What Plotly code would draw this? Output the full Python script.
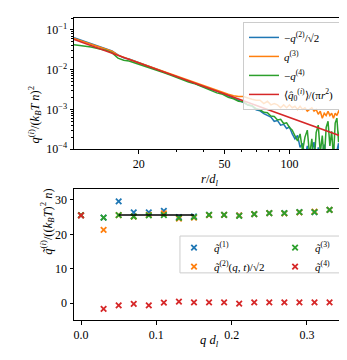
import plotly.graph_objects as go
from plotly.subplots import make_subplots

# top panel: radial profiles
r_vals = [10, 12, 14, 15, 16, 17, 18, 20, 22, 24, 26, 28, 30, 32, 34, 36, 38, 40,
          43, 46, 49, 52, 55, 58, 61, 64, 67, 70, 73, 76, 79, 82, 85, 88, 91, 94, 97,
          100, 103, 106, 109, 112, 115, 118, 121, 124, 127, 130, 133, 136, 139, 142,
          145, 148, 151, 154, 157, 160, 163, 166, 169, 172, 175, 178, 181]
q2_vals = [0.064, 0.046, 0.034, 0.0295, 0.0235, 0.0198, 0.0185, 0.0152, 0.0127, 0.0104,
           0.0089, 0.0076, 0.0066, 0.0059, 0.0051, 0.0047, 0.0041, 0.0038,
           0.0032, 0.0029, 0.0025, 0.0022, 0.00196, 0.0017, 0.0015, 0.00128, 0.00122,
           0.00098, 0.00092, 0.00078, 0.00072, 0.00064, 0.0005, 0.00052, 0.0004, 0.00042,
           0.00033, 0.00036, 0.00024, 0.00018, 0.00022, 0.00011, 0.00014, 0.00006,
           0.00012, 0.00005, 0.00009, 0.00015, 0.00004, 0.00011, 0.00003, 0.00008,
           0.00013, 0.00005, 0.00002, 0.0001, 0.00006, 0.00012, 0.00003, 0.00009,
           0.00014, 0.00005, 0.00011, 0.00008, 0.00012]
q3_vals = [0.061, 0.044, 0.033, 0.029, 0.0232, 0.0202, 0.0184, 0.015, 0.0125, 0.0104,
           0.0089, 0.0077, 0.0067, 0.006, 0.0053, 0.0047, 0.0044, 0.0039,
           0.0034, 0.003, 0.0027, 0.0024, 0.0022, 0.0021, 0.0021, 0.0019, 0.0018,
           0.0017, 0.0017, 0.0014, 0.0016, 0.0013, 0.0014, 0.0013, 0.0011, 0.0013,
           0.0011, 0.0013, 0.0011, 0.0012, 0.001, 0.0012, 0.001, 0.0011, 0.0009,
           0.001, 0.0011, 0.0009, 0.001, 0.00075, 0.0009, 0.0006, 0.0008, 0.0007,
           0.0009, 0.0007, 0.0008, 0.0006, 0.0008, 0.0007, 0.0009, 0.0008, 0.001,
           0.0009, 0.0011]
q4_vals = [0.0426, 0.037, 0.031, 0.0268, 0.0195, 0.0172, 0.0165, 0.0138, 0.0118, 0.0098,
           0.0085, 0.0073, 0.0063, 0.0057, 0.0049, 0.0045, 0.004, 0.0035,
           0.0031, 0.0026, 0.0024, 0.002, 0.00185, 0.0016, 0.00156, 0.0013, 0.00124,
           0.00104, 0.00098, 0.00084, 0.00082, 0.00068, 0.00066, 0.00054, 0.00056,
           0.00044, 0.00046, 0.00035, 0.0003, 0.00021, 0.00016, 0.00024, 0.00009,
           0.0002, 0.0003, 0.00007, 0.00018, 0.00004, 0.00026, 0.0004, 0.00008,
           0.00022, 0.00005, 0.00035, 0.0005, 0.00012, 0.00028, 0.00006, 0.00045,
           0.0006, 0.00015, 0.0004, 0.00075, 0.0006, 0.0009]
fit_r = [10, 181]
fit_vals = [0.0575, 0.000195]

# bottom panel: q-space
q_vals = [0.0, 0.03, 0.05, 0.07, 0.09, 0.11, 0.13, 0.15, 0.17, 0.19, 0.21, 0.23,
          0.25, 0.27, 0.29, 0.31, 0.33, 0.35]
qt1 = [25.5, 24.9, 29.6, 26.4, 26.4, 26.8, 25.0, 25.2, 25.7, 25.7, 25.5, 25.9,
       26.2, 26.2, 26.5, 26.5, 27.1, 27.4]
qt2 = [25.5, 21.3, 25.6, 25.2, 25.7, 26.1, 24.6, 24.9, 25.6, 25.7, 25.5, 25.9,
       26.2, 26.1, 26.4, 26.6, 27.1, 27.4]
qt3 = [25.6, 24.9, 25.6, 25.2, 25.5, 25.6, 24.8, 25.0, 25.7, 25.7, 25.4, 25.9,
       26.2, 26.2, 26.5, 26.5, 27.1, 27.4]
qt4 = [25.5, -1.6, -0.6, -0.2, -0.6, 0.2, 0.5, 0.3, 0.3, 0.3, -0.1, 0.3,
       0.3, 0.3, 0.3, 0.3, 0.3, 0.3]
plateau_q = [0.05, 0.15]
plateau_val = [25.6, 25.6]

C = ['#1f77b4', '#ff7f0e', '#2ca02c', '#d62728']
FONT = 'Liberation Serif'

fig = make_subplots(rows=2, cols=1)

top_names = ['\u2212<i>q</i><sup>(2)</sup>/\u221a2', '<i>q</i><sup>(3)</sup>',
             '\u2212<i>q</i><sup>(4)</sup>',
             '\u27e8<i>q\u0302</i><sub>0</sub><sup>(<i>i</i>)</sup>\u27e9/(\u03c0<i>r</i><sup>2</sup>)']
for i, (x, y) in enumerate([(r_vals, q2_vals), (r_vals, q3_vals), (r_vals, q4_vals), (fit_r, fit_vals)]):
    fig.add_trace(go.Scatter(x=x, y=y, mode='lines', name=top_names[i],
                             line=dict(color=C[i], width=1.5), legend='legend'),
                  row=1, col=1)

bot_names = ['<i>q\u0303</i><sup>(1)</sup>',
             '<i>q\u0303</i><sup>(2)</sup>(<i>q</i>, <i>t</i>)/\u221a2',
             '<i>q\u0303</i><sup>(3)</sup>', '<i>q\u0303</i><sup>(4)</sup>']
bot_legend = ['legend2', 'legend2', 'legend3', 'legend3']
for i, y in enumerate([qt1, qt2, qt3, qt4]):
    fig.add_trace(go.Scatter(x=q_vals, y=y, mode='markers', name=bot_names[i],
                             marker=dict(symbol='x-thin', size=5.5, color=C[i],
                                         line=dict(color=C[i], width=1.8)),
                             legend=bot_legend[i]),
                  row=2, col=1)
fig.add_trace(go.Scatter(x=plateau_q, y=plateau_val, mode='lines', showlegend=False,
                         line=dict(color='black', width=1.5)), row=2, col=1)

ax_style = dict(showline=True, mirror=True, linecolor='black', linewidth=1,
                ticks='outside', ticklen=3.5, tickwidth=1, tickcolor='black',
                showgrid=False, zeroline=False, tickfont=dict(family=FONT, size=12, color='black'))

fig.update_xaxes(type='log', range=[1, 2.2577], tickvals=[20, 50, 100],
                 minor=dict(tickvals=[30, 40, 60, 70, 80, 90], ticks='outside', ticklen=2,
                            tickcolor='black', tickwidth=0.8),
                 row=1, col=1, **ax_style)
ymin = [m * 10 ** e for e in range(-4, 0) for m in range(2, 10)]
fig.update_yaxes(type='log', range=[-4, -0.699], tickvals=[1e-4, 1e-3, 1e-2, 1e-1],
                 ticktext=['10<sup>\u22124</sup>', '10<sup>\u22123</sup>',
                           '10<sup>\u22122</sup>', '10<sup>\u22121</sup>'],
                 minor=dict(tickvals=ymin, ticks='outside', ticklen=2,
                            tickcolor='black', tickwidth=0.8),
                 domain=[0.566, 1], row=1, col=1, **ax_style)
fig.update_xaxes(range=[-0.0093, 0.3505], tickvals=[0, 0.1, 0.2, 0.3], tickformat='.1f',
                 row=2, col=1, **ax_style)
fig.update_yaxes(range=[-4.85, 33.2], tickvals=[0, 10, 20, 30], domain=[0, 0.434],
                 row=2, col=1, **ax_style)

lab = dict(xref='paper', yref='paper', showarrow=False,
           font=dict(family=FONT, size=12.5, color='black'))
fig.add_annotation(text='<i>q</i><sup>(<i>i</i>)</sup>/(<i>k</i><sub><i>B</i></sub><i>T n</i>)<sup>2</sup>',
                   x=-0.188, y=0.783, textangle=-90, **lab)
fig.add_annotation(text='<i>r</i>/<i>d</i><sub><i>l</i></sub>', x=0.5, y=0.4636, **lab)
fig.add_annotation(text='<i>q\u0303</i><sup>(<i>i</i>)</sup>/((<i>k</i><sub><i>B</i></sub><i>T</i>)<sup>2</sup> <i>n</i>)',
                   x=-0.14, y=0.21, textangle=-90, **lab)
fig.add_annotation(text='<i>q d</i><sub><i>l</i></sub>', x=0.5, y=-0.103, **lab)

# frame of the two-column legend in the lower panel
fig.add_shape(type='rect', xref='paper', yref='paper', x0=0.391, x1=0.9815, y0=0.156, y1=0.278,
              fillcolor='rgba(255,255,255,0.8)', line=dict(color='#cccccc', width=1), layer='above')

leg_font = dict(family=FONT, size=11, color='black')
fig.update_layout(
    width=347, height=360,
    margin=dict(l=66, r=10, t=10, b=48),
    plot_bgcolor='white', paper_bgcolor='white',
    legend=dict(x=0.9815, y=0.987, xanchor='right', yanchor='top', font=leg_font,
                bgcolor='rgba(255,255,255,0.8)', bordercolor='#cccccc', borderwidth=1,
                itemwidth=30, tracegroupgap=0),
    legend2=dict(x=0.369, y=0.288, xanchor='left', yanchor='top', font=leg_font,
                 bgcolor='rgba(0,0,0,0)', borderwidth=0, itemwidth=30),
    legend3=dict(x=0.742, y=0.288, xanchor='left', yanchor='top', font=leg_font,
                 bgcolor='rgba(0,0,0,0)', borderwidth=0, itemwidth=30),
)

fig.write_html("out.html")
